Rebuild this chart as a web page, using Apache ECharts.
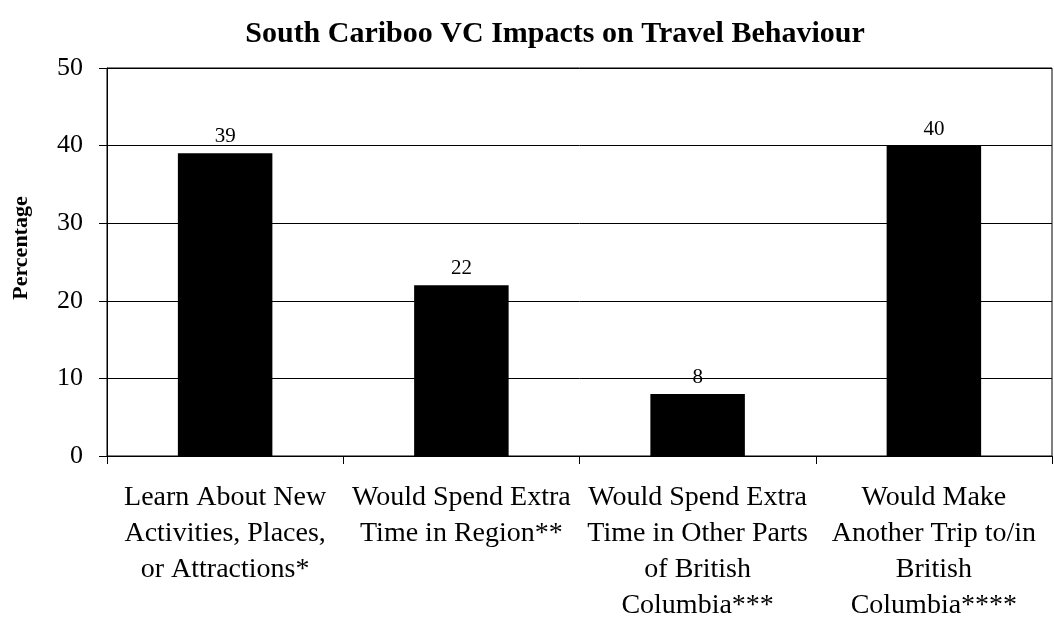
<!DOCTYPE html>
<html>
<head>
<meta charset="utf-8">
<script src="https://cdn.jsdelivr.net/npm/echarts@6/dist/echarts.min.js"></script>
<style>html,body{margin:0;padding:0;background:#fff}#c{width:1054px;height:618px}</style>
</head>
<body>
<div id="c"></div>
<script>
var titleText = 'South Cariboo VC Impacts on Travel Behaviour';
var yAxisName = 'Percentage';
var categories = [
  'Learn About New\nActivities, Places,\nor Attractions*',
  'Would Spend Extra\nTime in Region**',
  'Would Spend Extra\nTime in Other Parts\nof British\nColumbia***',
  'Would Make\nAnother Trip to/in\nBritish\nColumbia****'
];
var values = [39, 22, 8, 40];
var yTicks = [0, 10, 20, 30, 40, 50];

var font = '"Liberation Serif", "Times New Roman", serif';
var chart = echarts.init(document.getElementById('c'), null, {renderer: 'canvas'});
chart.setOption({
  animation: false,
  backgroundColor: '#fff',
  title: {
    text: titleText,
    left: 550, textAlign: 'center', top: 14,
    textStyle: {fontFamily: font, fontWeight: 'bold', fontSize: 30, color: '#000'}
  },
  grid: {left: 107, right: 2, top: 68, bottom: 162, outerBoundsMode: 'none', containLabel: false,
    show: true, borderColor: '#000', borderWidth: 1, backgroundColor: 'transparent'},
  xAxis: {
    type: 'category',
    data: categories,
    boundaryGap: true,
    axisLine: {show: true, lineStyle: {color: '#000', width: 1}},
    axisTick: {show: true, length: 8, inside: false, alignWithLabel: false, lineStyle: {color: '#000'}},
    axisLabel: {interval: 0, margin: 24, fontFamily: font, fontSize: 28, lineHeight: 36, color: '#000', align: 'center'}
  },
  yAxis: {
    type: 'value',
    min: yTicks[0], max: yTicks[yTicks.length - 1], interval: 10,
    name: yAxisName, nameLocation: 'middle', nameGap: 75,
    nameTextStyle: {fontFamily: font, fontWeight: 'bold', fontSize: 22, color: '#000', padding: [0, 0, 0, 28]},
    axisLine: {show: true, lineStyle: {color: '#000', width: 1}},
    axisTick: {show: true, length: 8, inside: false, lineStyle: {color: '#000'}},
    axisLabel: {margin: 24, fontFamily: font, fontSize: 26, color: '#000'},
    splitLine: {show: true, lineStyle: {color: '#000', width: 1}}
  },
  series: [{
    type: 'bar',
    data: values,
    barCategoryGap: '60%',
    itemStyle: {color: '#000'},
    label: {show: true, position: 'top', distance: 6, fontFamily: font, fontSize: 21, color: '#000'}
  }]
});
</script>
</body>
</html>
